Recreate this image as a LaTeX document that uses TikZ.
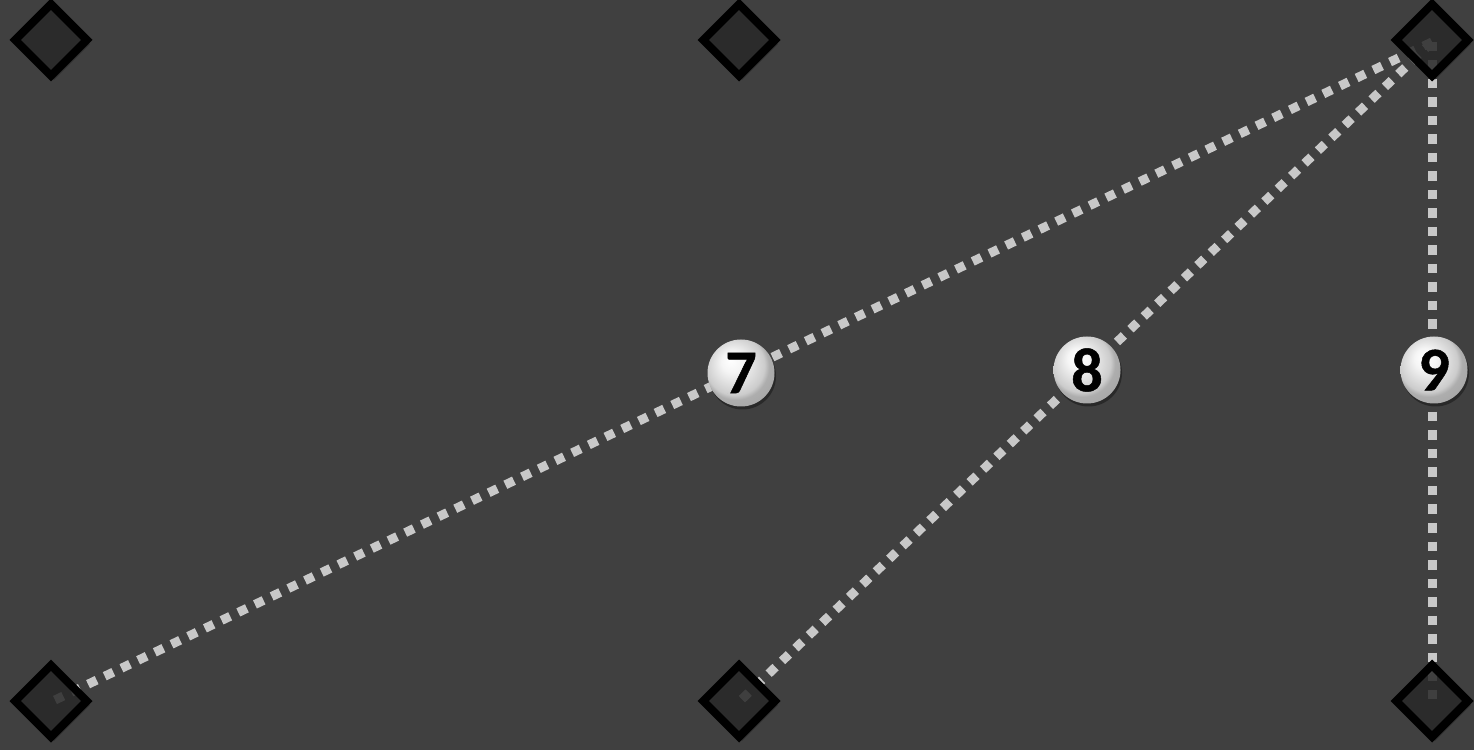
\documentclass[tikz,border=0pt]{standalone}
\usepackage{fontspec}
\setmainfont{Carlito}
\newfontfamily\labfont{Carlito Bold}[FakeBold=0.8]
\usetikzlibrary{shapes.geometric,shadows}
\definecolor{bg}{HTML}{404040}
\definecolor{dfill}{HTML}{2A2A2A}
\definecolor{dotc}{HTML}{C8C8C8}
\pgfdeclareradialshading{ballw}{\pgfpoint{-8bp}{10bp}}{%
  color(0bp)=(white); color(8bp)=(white!96!black); color(22bp)=(white!80!black); color(25bp)=(white!68!black); color(50bp)=(white!58!black)}
\tikzset{
  px/.style={x=1pt,y=1pt},
  dnode/.style={diamond, aspect=1, draw=black, line width=8pt, fill=dfill, fill opacity=0.8, draw opacity=1,
    minimum width=75pt, minimum height=75pt, inner sep=0pt,
    drop shadow={shadow xshift=3pt, shadow yshift=-4pt, opacity=0.25, fill=black}},
  conn/.style={draw=dotc, line width=9pt, dash pattern=on 9.5pt off 9pt},
  lab/.style={circle, minimum size=67pt, inner sep=0pt, shading=ballw, text=black,
    font=\labfont\fontsize{62}{62}\selectfont,
    drop shadow={shadow xshift=1.5pt, shadow yshift=-3pt, opacity=0.35, fill=black}},
}
\begin{document}
\begin{tikzpicture}[px]
\fill[bg] (0,0) rectangle (1474,750);
\useasboundingbox (0,0) rectangle (1474,750);
\coordinate (ptr) at (1432,708);
\coordinate (pbl) at (55,50);
\coordinate (pbm) at (741,50);
\coordinate (pbr) at (1432,50);
\path[conn] (ptr) -- (pbl) coordinate[pos=0.5] (m7);
\path[conn] (ptr) -- (pbm) coordinate[pos=0.5] (m8);
\path[conn] (ptr) -- (pbr) coordinate[pos=0.5] (m9);
\node[dnode] (tl) at (51,710) {};
\node[dnode] (tm) at (739,710) {};
\node[dnode] (tr) at (1432,710) {};
\node[dnode] (bl) at (51,49) {};
\node[dnode] (bm) at (739,49) {};
\node[dnode] (br) at (1432,49) {};
\node[lab] (l7) at (741,377) {\raisebox{-2pt}{7}};
\node[lab] (l8) at (1087,380) {\raisebox{-2pt}{8}};
\node[lab] (l9) at (1434,380) {\raisebox{-2pt}{9}};
\end{tikzpicture}
\end{document}
